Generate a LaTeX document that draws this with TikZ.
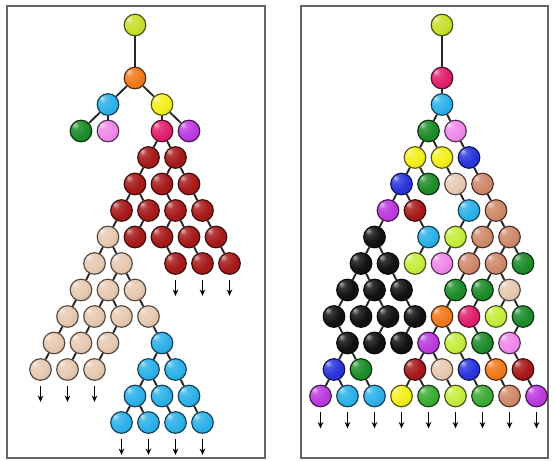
\documentclass[tikz,border=0pt]{standalone}
\usepackage{xcolor}
\usepackage{tikz}
\usetikzlibrary{shapes,arrows,positioning,calc,arrows.meta}

\definecolor{rootlime}{HTML}{C8E02E}
\definecolor{orangeC}{HTML}{F27A1C}
\definecolor{skyC}{HTML}{2EB2EA}
\definecolor{yellowC}{HTML}{F4F01E}
\definecolor{greenC}{HTML}{1E8C2A}
\definecolor{pinkC}{HTML}{F08AEA}
\definecolor{crimsonC}{HTML}{E2206E}
\definecolor{purpleC}{HTML}{BC3CE0}
\definecolor{darkredC}{HTML}{A81A1A}
\definecolor{peachC}{HTML}{E8CAB2}
\definecolor{salmonC}{HTML}{D08A6C}
\definecolor{blackC}{HTML}{121212}
\definecolor{royalC}{HTML}{2A36DC}
\definecolor{limeC}{HTML}{C6EE3E}
\definecolor{leafC}{HTML}{3EAC34}

% glossy sphere, highlight at the upper left
\makeatletter
\pgfdeclareradialshading[tikz@ball]{glossy}{\pgfpoint{-15bp}{15bp}}{%
  color(0bp)=(tikz@ball!35!white);
  color(9bp)=(tikz@ball!85!white);
  color(24bp)=(tikz@ball);
  color(48bp)=(tikz@ball!85!black);
  color(72bp)=(tikz@ball!55!black)}
\makeatother

\tikzset{
  cell/.style={circle, inner sep=0pt, minimum size=0.54cm,
    ball color=#1, shading=glossy, draw=#1!35!black, line width=0.8pt},
  link/.style={draw=black!85, line width=1.3pt},
  outflow/.style={-{Stealth[length=4.5pt,width=4pt]}, line width=0.9pt},
  panel/.style={draw=black!60, line width=1.6pt}
}

\begin{document}
\begin{tikzpicture}[x=0.025cm, y=-0.025cm]
    \useasboundingbox (0,0) rectangle (553,461);
    \fill[white] (0,0) rectangle (553,461);

    % Frames
    \draw[panel] (7,6) rectangle (265,458);
    \draw[panel] (301,6) rectangle (548,458);

    % Left lineage: row/column/colour/parent row/parent column
    \node[cell=rootlime] (L0c0) at (135,25) {};
    \foreach \r/\c/\col/\pr/\pc in {
        2/0/orangeC/0/0,
        3/-2/skyC/2/0, 3/2/yellowC/2/0,
        4/-4/greenC/3/-2, 4/-2/pinkC/3/-2, 4/2/crimsonC/3/2, 4/4/purpleC/3/2,
        5/1/darkredC/4/2, 5/3/darkredC/4/2,
        6/0/darkredC/5/1, 6/2/darkredC/5/3, 6/4/darkredC/5/3,
        7/-1/darkredC/6/0, 7/1/darkredC/6/0, 7/3/darkredC/6/2, 7/5/darkredC/6/4,
        8/-2/peachC/7/-1, 8/0/darkredC/7/1, 8/2/darkredC/7/3, 8/4/darkredC/7/3, 8/6/darkredC/7/5,
        9/-3/peachC/8/-2, 9/-1/peachC/8/-2, 9/3/darkredC/8/2, 9/5/darkredC/8/4, 9/7/darkredC/8/6,
        10/-4/peachC/9/-3, 10/-2/peachC/9/-1, 10/0/peachC/9/-1,
        11/-5/peachC/10/-4, 11/-3/peachC/10/-2, 11/-1/peachC/10/-2, 11/1/peachC/10/0,
        12/-6/peachC/11/-5, 12/-4/peachC/11/-3, 12/-2/peachC/11/-1, 12/2/skyC/11/1,
        13/-7/peachC/12/-6, 13/-5/peachC/12/-4, 13/-3/peachC/12/-2, 13/1/skyC/12/2, 13/3/skyC/12/2,
        14/0/skyC/13/1, 14/2/skyC/13/1, 14/4/skyC/13/3,
        15/-1/skyC/14/0, 15/1/skyC/14/0, 15/3/skyC/14/2, 15/5/skyC/14/4} {
      \node[cell=\col] (L\r c\c) at ({135+13.5*\c},{25+26.5*\r}) {};
      \draw[link] (L\pr c\pc) -- (L\r c\c);
    }
    \foreach \n in {L9c3, L9c5, L9c7, L13c-7, L13c-5, L13c-3, L15c-1, L15c1, L15c3, L15c5}
      \draw[outflow] (\n.south) ++(0,5) -- ++(0,16);

    % Right lineage
    \node[cell=rootlime] (R0c0) at (442,25) {};
    \foreach \r/\c/\col/\pr/\pc in {
        2/0/crimsonC/0/0,
        3/0/skyC/2/0,
        4/-1/greenC/3/0, 4/1/pinkC/3/0,
        5/-2/yellowC/4/-1, 5/0/yellowC/4/-1, 5/2/royalC/4/1,
        6/-3/royalC/5/-2, 6/-1/greenC/5/-2, 6/1/peachC/5/0, 6/3/salmonC/5/2,
        7/-4/purpleC/6/-3, 7/-2/darkredC/6/-3, 7/2/skyC/6/1, 7/4/salmonC/6/3,
        8/-5/blackC/7/-4, 8/-1/skyC/7/-2, 8/1/limeC/7/2, 8/3/salmonC/7/4, 8/5/salmonC/7/4,
        9/-6/blackC/8/-5, 9/-4/blackC/8/-5, 9/-2/limeC/8/-1, 9/0/pinkC/8/1, 9/2/salmonC/8/3, 9/4/salmonC/8/5, 9/6/greenC/8/5,
        10/-7/blackC/9/-6, 10/-5/blackC/9/-6, 10/-3/blackC/9/-4, 10/1/greenC/9/2, 10/3/greenC/9/4, 10/5/peachC/9/4,
        11/-8/blackC/10/-7, 11/-6/blackC/10/-5, 11/-4/blackC/10/-5, 11/-2/blackC/10/-3,
        11/0/orangeC/10/1, 11/2/crimsonC/10/3, 11/4/limeC/10/5, 11/6/greenC/10/5,
        12/-7/blackC/11/-8, 12/-5/blackC/11/-4, 12/-3/blackC/11/-2, 12/-1/purpleC/11/0,
        12/1/limeC/11/0, 12/3/greenC/11/2, 12/5/pinkC/11/6,
        13/-8/royalC/12/-7, 13/-6/greenC/12/-7, 13/-2/darkredC/12/-1, 13/0/peachC/12/-1,
        13/2/royalC/12/1, 13/4/orangeC/12/3, 13/6/darkredC/12/5,
        14/-9/purpleC/13/-8, 14/-7/skyC/13/-8, 14/-5/skyC/13/-6, 14/-3/yellowC/13/-2,
        14/-1/leafC/13/-2, 14/1/limeC/13/0, 14/3/leafC/13/2, 14/5/salmonC/13/4, 14/7/purpleC/13/6} {
      \node[cell=\col] (R\r c\c) at ({442+13.5*\c},{25+26.5*\r}) {};
      \draw[link] (R\pr c\pc) -- (R\r c\c);
    }
    \foreach \c in {-9,-7,...,7}
      \draw[outflow] (R14c\c.south) ++(0,5) -- ++(0,16);
\end{tikzpicture}
\end{document}
